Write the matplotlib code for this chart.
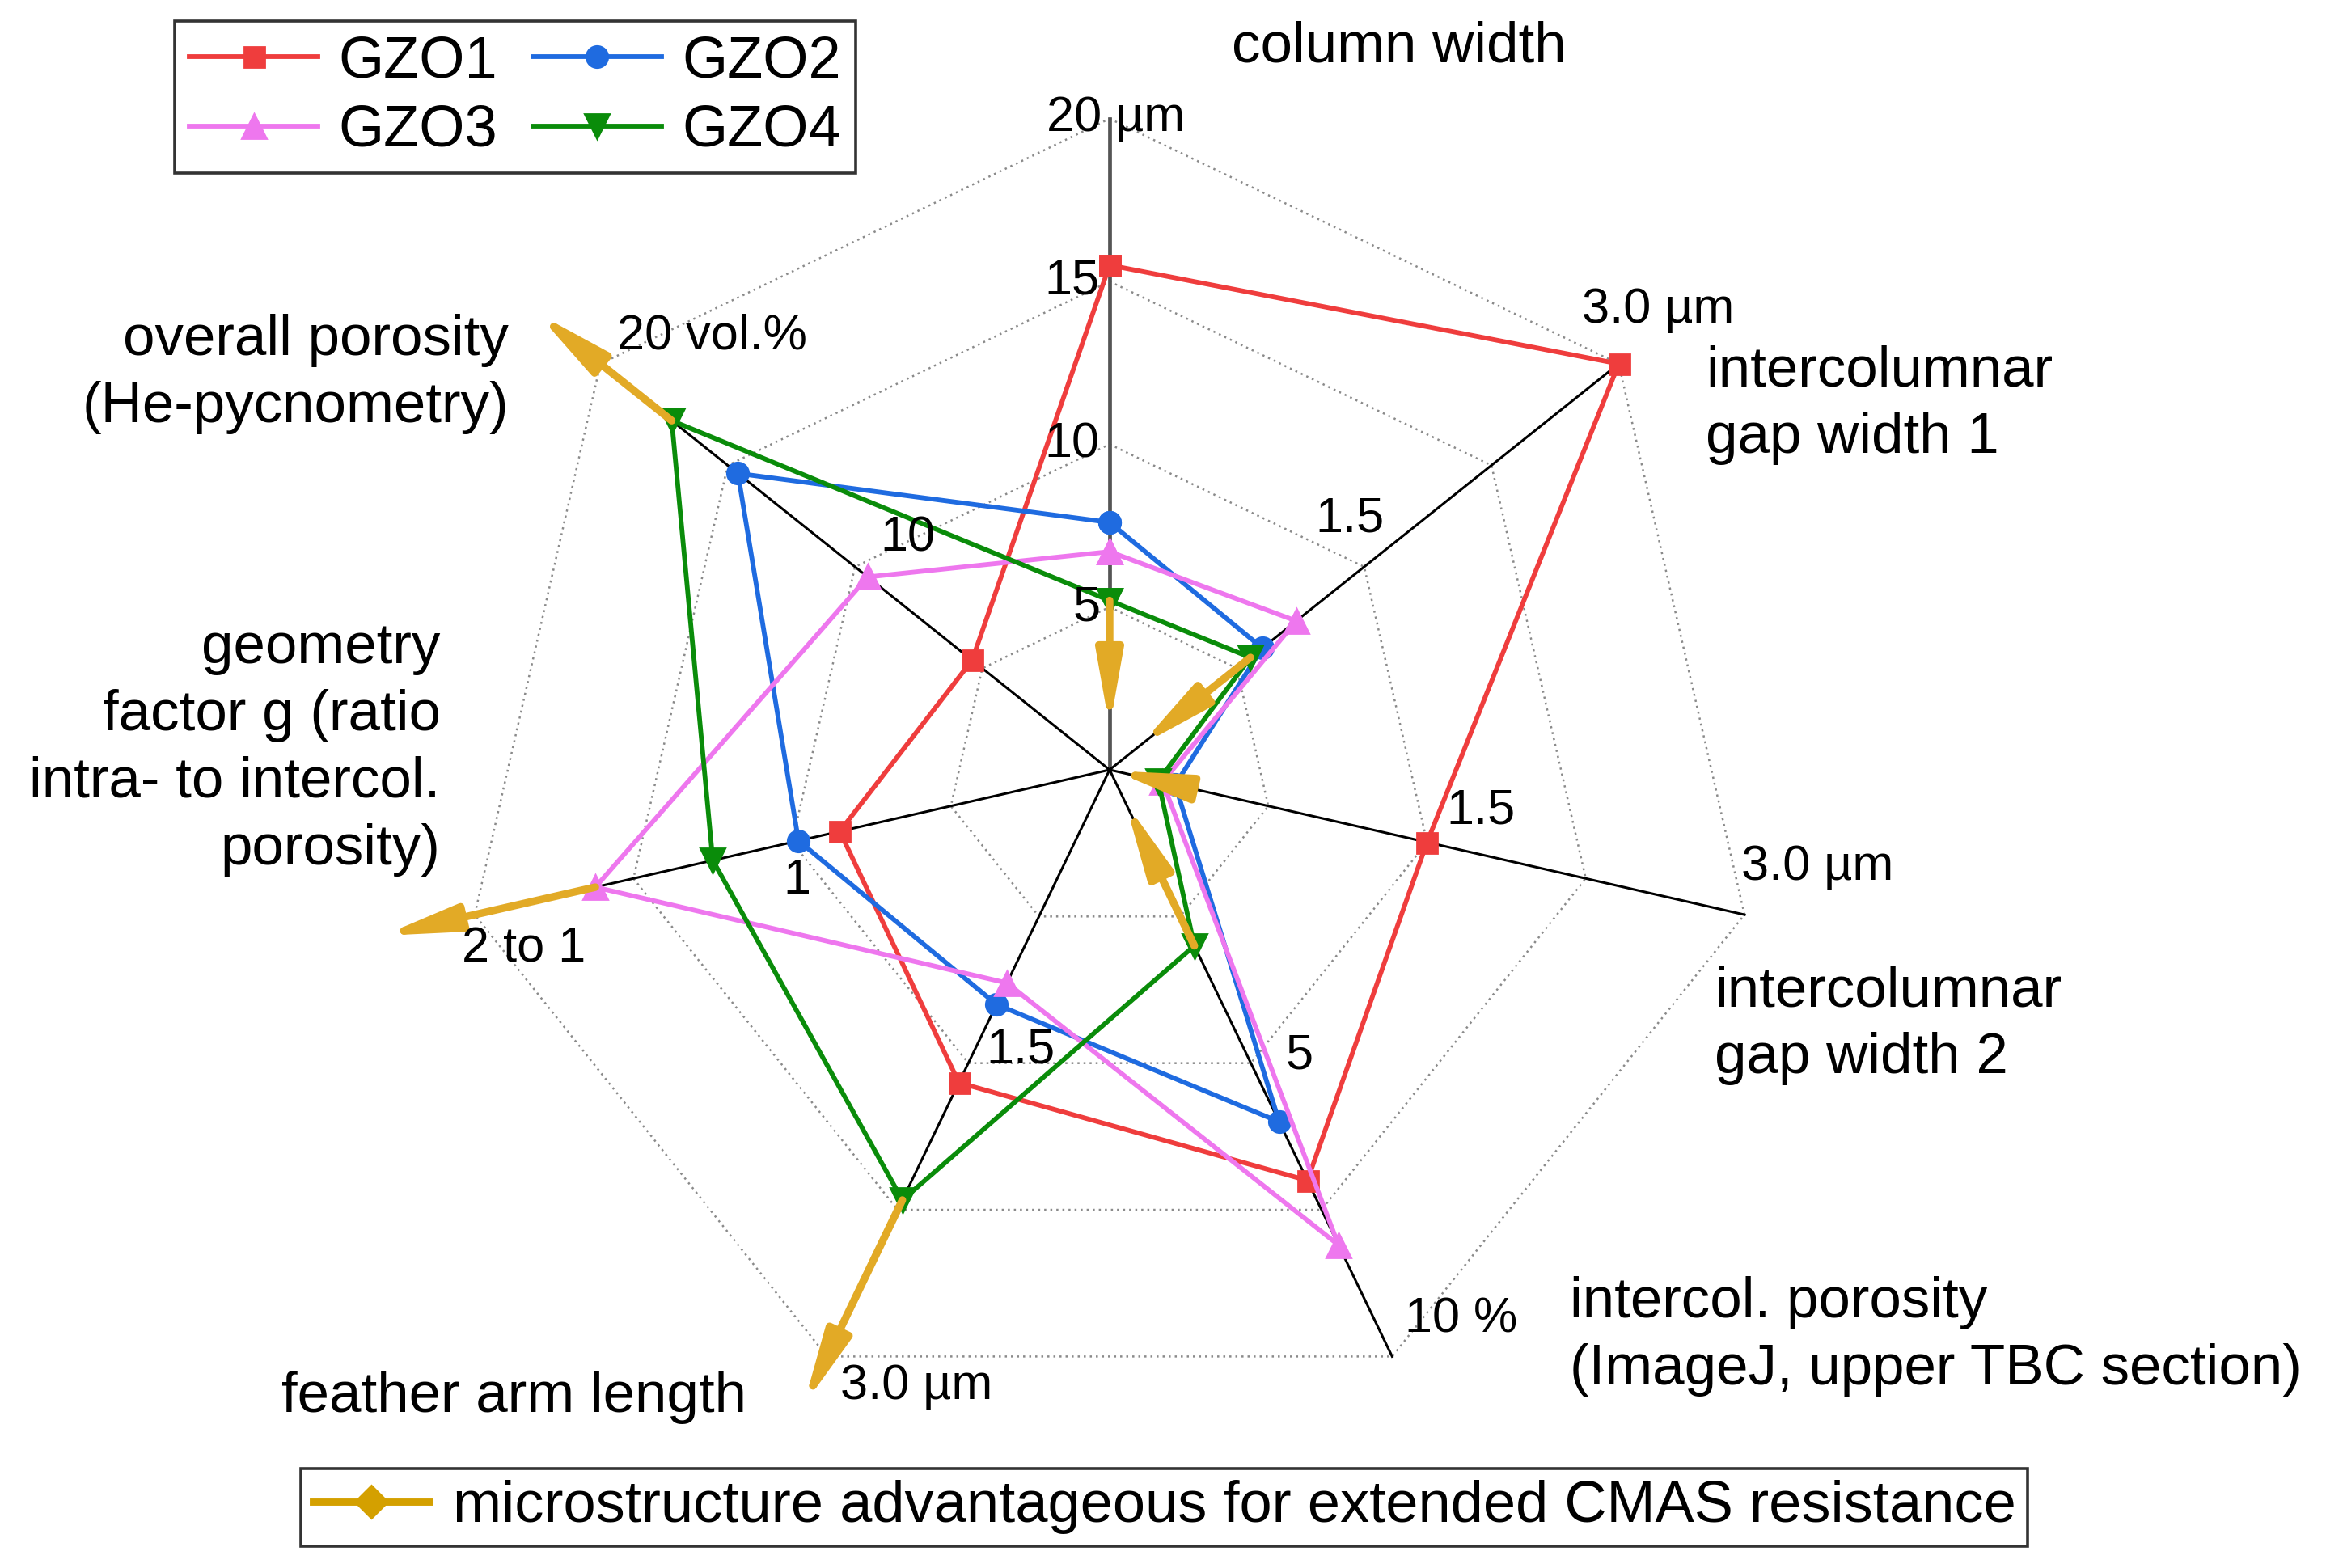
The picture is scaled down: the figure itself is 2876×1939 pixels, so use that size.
import numpy as np
import matplotlib.pyplot as plt
from matplotlib.patches import FancyArrowPatch
from matplotlib.lines import Line2D

plt.rcParams['font.family'] = ['Liberation Sans', 'DejaVu Sans']

# radar axes, clockwise from the top
axis_names = ["column width", "intercolumnar gap width 1", "intercolumnar gap width 2",
              "intercol. porosity", "feather arm length", "geometry factor g",
              "overall porosity"]
axis_max = [20.0, 3.0, 3.0, 10.0, 3.0, 2.0, 20.0]

series_names = ["GZO1", "GZO2", "GZO3", "GZO4"]
gzo1 = [15.5, 3.0, 1.5, 7.0, 1.6, 0.85, 5.4]
gzo2 = [7.6, 0.9, 0.31, 6.0, 1.2, 0.98, 14.6]
gzo3 = [6.7, 1.1, 0.25, 8.1, 1.09, 1.62, 9.5]
gzo4 = [5.2, 0.83, 0.23, 3.0, 2.2, 1.25, 17.2]

# arrows "advantageous direction" (start -> end, axis units)
arrow_start = [5.2, 0.83, 0.25, 3.0, 2.2, 1.62, 17.2]
arrow_end = [1.3, 0.18, 0.02, 0.56, 3.25, 2.29, 22.5]

colors = ["#EF3D3D", "#1F6BE0", "#EE77EE", "#0A8C0A"]
markers = ["s", "o", "^", "v"]
msizes = [9, 9.5, 10.5, 10.5]
arrow_color = "#E2AA26"

W, H = 2876, 1939
S = 1568.0          # reference width in "screen" px used for layout
Hd = S * H / W
cx, cy, R = 748.0, 519.0, 439.0

fig = plt.figure(figsize=(W / 200, H / 200), dpi=200)
ax = fig.add_axes([0, 0, 1, 1])
ax.set_xlim(-cx / R, (S - cx) / R)
ax.set_ylim((cy - Hd) / R, cy / R)
ax.axis('off')


def P(x, y):
    return (x - cx) / R, (cy - y) / R


n = len(axis_max)
theta = np.deg2rad(90 - np.arange(n) * 360.0 / n)
ct, st = np.cos(theta), np.sin(theta)

# grid polygons
for f in [0.25, 0.5, 0.75, 1.0]:
    ax.plot(np.append(f * ct, f * ct[0]), np.append(f * st, f * st[0]),
            color="#8a8a8a", lw=0.9, ls=(0, (1, 2)), zorder=1)

# spokes
for k in range(n):
    c = "#555555" if k == 0 else "black"
    w = 1.7 if k == 0 else 1.1
    ax.plot([0, ct[k]], [0, st[k]], color=c, lw=w, zorder=2)

# data
handles = []
for name, vals, c, m, ms in zip(series_names, [gzo1, gzo2, gzo3, gzo4], colors, markers, msizes):
    r = np.array(vals) / np.array(axis_max)
    x = np.append(r * ct, r[0] * ct[0])
    y = np.append(r * st, r[0] * st[0])
    h, = ax.plot(x, y, color=c, lw=2.1, marker=m, ms=ms, mec=c, mfc=c, label=name, zorder=3)
    handles.append(h)

# arrows
for k in range(n):
    r0 = arrow_start[k] / axis_max[k]
    r1 = arrow_end[k] / axis_max[k]
    ar = FancyArrowPatch((r0 * ct[k], r0 * st[k]), (r1 * ct[k], r1 * st[k]),
                         arrowstyle="-|>,head_length=1.35,head_width=0.24",
                         mutation_scale=20, color=arrow_color, lw=3.4,
                         shrinkA=0, shrinkB=0, zorder=4)
    ax.add_patch(ar)

# axis titles
fs = 25.5
ls = 1.33
ax.text(*P(943, 32), "column width", ha="center", va="center", fontsize=fs)
ax.text(*P(1150, 273), "intercolumnar\ngap width 1", ha="left", va="center",
        fontsize=fs, linespacing=ls)
ax.text(*P(1156, 691), "intercolumnar\ngap width 2", ha="left", va="center",
        fontsize=fs, linespacing=ls)
ax.text(*P(1058, 901), "intercol. porosity\n(ImageJ, upper TBC section)", ha="left",
        va="center", fontsize=fs, linespacing=ls)
ax.text(*P(190, 942), "feather arm length", ha="left", va="center", fontsize=fs)
ax.text(*P(297, 505), "geometry\nfactor g (ratio\nintra- to intercol.\nporosity)", ha="right",
        va="center", fontsize=fs, linespacing=ls)
ax.text(*P(343, 252), "overall porosity\n(He-pycnometry)", ha="right", va="center",
        fontsize=fs, linespacing=ls)

# tick labels
tfs = 22
ticks = [
    ("5", 742, 410, "right"), ("10", 741, 300, "right"), ("15", 741, 190, "right"),
    ("20 µm", 752, 80, "center"),
    ("1.5", 910, 350, "center"), ("3.0 µm", 1118, 209, "center"),
    ("1.5", 998, 547, "center"), ("3.0 µm", 1225, 585, "center"),
    ("5", 876, 712, "center"), ("10 %", 985, 890, "center"),
    ("1.5", 688, 708, "center"), ("3.0 µm", 618, 935, "center"),
    ("1", 537, 594, "center"), ("2 to 1", 353, 640, "center"),
    ("10", 612, 363, "center"), ("20 vol.%", 480, 227, "center"),
]
for txt, x, y, ha in ticks:
    ax.text(*P(x, y), txt, ha=ha, va="center", fontsize=tfs, zorder=5)

# legends (row-wise order: GZO1 GZO2 / GZO3 GZO4)
leg_handles = [handles[0], handles[2], handles[1], handles[3]]
leg = fig.legend(handles=leg_handles, loc="upper left", bbox_to_anchor=(118 / S, 1 - 14 / Hd),
                 ncol=2, fontsize=26, frameon=True, fancybox=False, edgecolor="black",
                 handlelength=2.2, handletextpad=0.35, columnspacing=0.6,
                 borderpad=0.25, labelspacing=0.25, borderaxespad=0)
leg.get_frame().set_linewidth(1.3)

cmas = Line2D([], [], color="#D4A000", lw=3.2, marker="D", ms=10)
leg2 = fig.legend(handles=[cmas], labels=["microstructure advantageous for extended CMAS resistance"],
                  loc="upper left", bbox_to_anchor=(203 / S, 1 - 990 / Hd), fontsize=26,
                  frameon=True, fancybox=False, edgecolor="black", handlelength=2.0,
                  handletextpad=0.4, borderpad=0.2, borderaxespad=0)
leg2.get_frame().set_linewidth(1.3)

fig.savefig("out.png", dpi=200, facecolor="white")
